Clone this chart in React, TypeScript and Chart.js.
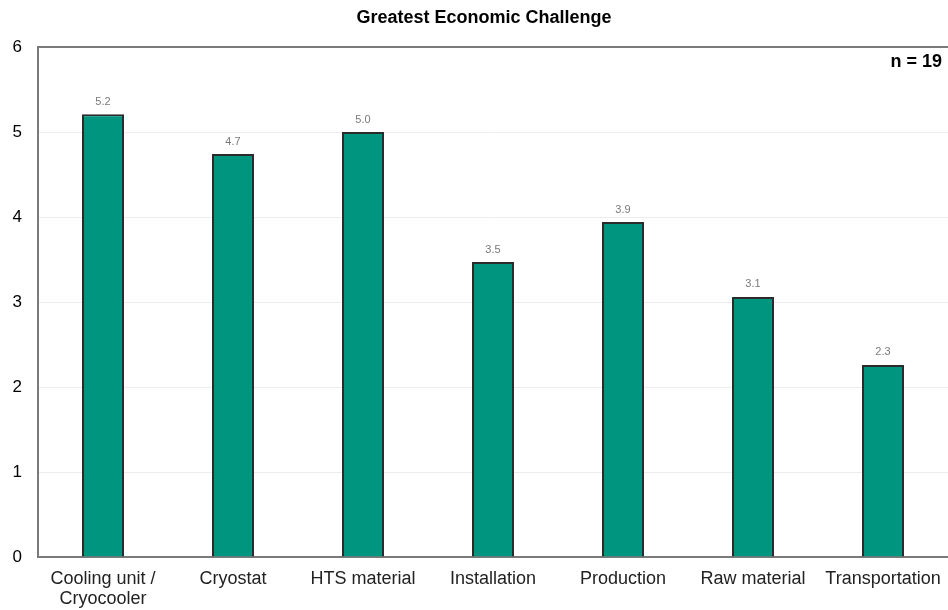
import React, { useEffect, useRef } from "react";
import { Chart, registerables } from "chart.js";

Chart.register(...registerables);

const categories: (string | string[])[] = [
  ["Cooling unit /", "Cryocooler"],
  "Cryostat",
  "HTS material",
  "Installation",
  "Production",
  "Raw material",
  "Transportation",
];
const values = [5.21, 4.74, 5.0, 3.47, 3.94, 3.06, 2.26];
const valueLabels = ["5.2", "4.7", "5.0", "3.5", "3.9", "3.1", "2.3"];
const yTicks = [0, 1, 2, 3, 4, 5, 6];
const titleText = "Greatest Economic Challenge";
const sampleText = "n = 19";

const FONT = "Arial, 'Liberation Sans', sans-serif";

const overlayPlugin = {
  id: "overlay",
  afterDatasetsDraw(chart: any) {
    const ctx = chart.ctx;
    const meta = chart.getDatasetMeta(0);
    ctx.save();
    ctx.font = `11px ${FONT}`;
    ctx.fillStyle = "#7a7a7a";
    ctx.textAlign = "center";
    ctx.textBaseline = "bottom";
    meta.data.forEach((bar: any, i: number) => {
      ctx.fillText(valueLabels[i], bar.x, bar.y - 7);
    });
    ctx.restore();
  },
  afterDraw(chart: any) {
    const ctx = chart.ctx;
    ctx.save();
    ctx.font = `bold 18px ${FONT}`;
    ctx.fillStyle = "#000";
    ctx.textAlign = "center";
    ctx.textBaseline = "middle";
    ctx.fillText(titleText, 484, 18);
    ctx.textAlign = "right";
    ctx.fillText(sampleText, 942, 62);
    ctx.restore();
  },
};

export default function App() {
  const ref = useRef<HTMLCanvasElement>(null);
  useEffect(() => {
    if (!ref.current) return;
    const chart = new Chart(ref.current, {
      type: "bar",
      data: {
        labels: categories,
        datasets: [
          {
            data: values,
            backgroundColor: "#00957f",
            borderColor: "#2b2b2b",
            borderWidth: 2,
            barPercentage: 0.323,
            categoryPercentage: 1,
          },
        ],
      },
      options: {
        animation: false,
        responsive: false,
        maintainAspectRatio: false,
        layout: { padding: { top: 47, right: 0, left: 0, bottom: 0 } },
        plugins: {
          legend: { display: false },
          title: { display: false },
          tooltip: { enabled: false },
        },
        scales: {
          x: {
            grid: { display: false, drawTicks: false },
            border: { color: "#7a7a7a", width: 2 },
            ticks: {
              color: "#222",
              font: { family: FONT, size: 18, lineHeight: 1.12 },
              padding: 12,
              maxRotation: 0,
              autoSkip: false,
            },
            afterFit(scale: any) {
              scale.height = 53;
              scale.paddingLeft = 0;
              scale.paddingRight = 0;
            },
          },
          y: {
            min: 0,
            max: 6,
            afterBuildTicks(scale: any) {
              scale.ticks = yTicks.map((v) => ({ value: v }));
            },
            grid: {
              drawTicks: false,
              color: (c: any) => (c.tick && c.tick.value === 6 ? "#7a7a7a" : "#ececec"),
              lineWidth: (c: any) => (c.tick && c.tick.value === 6 ? 2 : 1),
            },
            border: { color: "#7a7a7a", width: 2 },
            ticks: {
              color: "#000",
              font: { family: FONT, size: 17 },
              padding: 16,
            },
            afterFit(scale: any) {
              scale.width = 38;
              scale.paddingTop = 0;
              scale.paddingBottom = 0;
            },
          },
        },
      },
      plugins: [overlayPlugin],
    });
    return () => chart.destroy();
  }, []);
  return (
    <div style={{ position: "fixed", left: 0, top: 0, width: 948, height: 610, background: "#fff" }}>
      <canvas ref={ref} width={948} height={610} style={{ width: 948, height: 610 }} />
    </div>
  );
}
